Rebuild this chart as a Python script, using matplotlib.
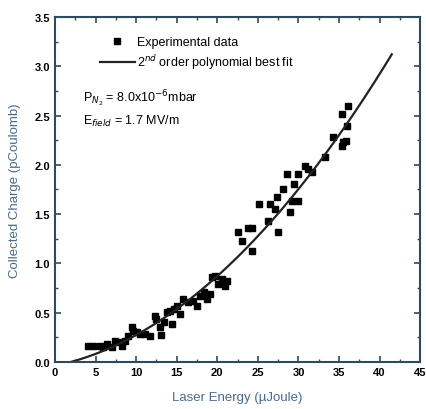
import numpy as np
import matplotlib
matplotlib.use("Agg")
import matplotlib.pyplot as plt
from matplotlib.ticker import MultipleLocator

plt.rcParams['font.family'] = ['Liberation Sans', 'DejaVu Sans']

# laser energy (uJ) and collected charge (pC)
energy = [4.1, 4.7, 5.5, 5.9, 6.4, 7.0, 7.4, 7.8, 8.3, 8.6, 9.0, 9.5, 9.6, 10.1,
          10.5, 11.1, 11.7, 12.3, 12.5, 12.9, 13.1, 13.4, 13.8, 14.2, 14.4, 14.6,
          15.0, 15.4, 15.8, 16.4, 17.0, 17.5, 17.9, 18.3, 18.7, 19.1, 19.4, 19.7,
          20.1, 20.6, 21.0, 21.2, 22.6, 23.0, 23.8, 24.3, 24.3, 25.1, 26.3, 26.5,
          27.1, 27.4, 27.5, 28.1, 28.6, 29.0, 29.2, 29.4, 30.0, 30.0, 30.8, 31.2,
          31.7, 33.3, 34.2, 35.4, 35.5, 35.8, 36.0, 35.4, 36.1]
charge = [0.16, 0.16, 0.16, 0.15, 0.18, 0.15, 0.21, 0.20, 0.16, 0.21, 0.26, 0.35,
          0.31, 0.30, 0.28, 0.28, 0.26, 0.47, 0.44, 0.35, 0.27, 0.40, 0.51, 0.52,
          0.38, 0.54, 0.57, 0.49, 0.64, 0.61, 0.62, 0.57, 0.67, 0.71, 0.64, 0.69,
          0.86, 0.87, 0.79, 0.84, 0.77, 0.82, 1.32, 1.23, 1.36, 1.36, 1.13, 1.60,
          1.43, 1.60, 1.55, 1.67, 1.32, 1.75, 1.91, 1.52, 1.63, 1.81, 1.63, 1.91,
          1.99, 1.96, 1.93, 2.08, 2.28, 2.19, 2.23, 2.24, 2.39, 2.52, 2.60]

# quadratic fit coefficients (c2, c1, c0) and range of the fitted curve
fit_coef = [0.001426, 0.0170, -0.0397]
fit_range = (0.0, 41.5)

fit_x = np.linspace(fit_range[0], fit_range[1], 300)
fit_y = np.polyval(fit_coef, fit_x)

fig = plt.figure(figsize=(4.27, 4.10), dpi=100)
ax = fig.add_axes([0.129, 0.115, 0.855, 0.841])

ax.plot(energy, charge, 's', color='black', markersize=4.5, label='Experimental data')
ax.plot(fit_x, fit_y, '-', color='#222222', lw=1.6,
        label=r'2$^{nd}$ order polynomial best fit')

ax.set_xlim(0, 45)
ax.set_ylim(0, 3.5)
ax.xaxis.set_major_locator(MultipleLocator(5))
ax.xaxis.set_minor_locator(MultipleLocator(2.5))
ax.yaxis.set_major_locator(MultipleLocator(0.5))
ax.yaxis.set_minor_locator(MultipleLocator(0.25))
ax.yaxis.set_major_formatter(plt.FormatStrFormatter('%.1f'))
ax.tick_params(which='both', direction='in', top=True, right=True, color='#2f4a5a')
ax.tick_params(which='major', length=4, width=1.2, labelsize=8)
ax.tick_params(which='minor', length=2.5, width=1.0)
for lab in ax.get_xticklabels() + ax.get_yticklabels():
    lab.set_fontweight('bold')
for s in ax.spines.values():
    s.set_color('#2f4a5a')
    s.set_linewidth(1.5)

ax.set_xlabel('Laser Energy (\u00b5Joule)', color='#4a6a8a', fontsize=9.5, labelpad=10)
ax.set_ylabel('Collected Charge (pCoulomb)', color='#4a6a8a', fontsize=9.5, labelpad=10)

ax.legend(loc='upper left', bbox_to_anchor=(0.123, 0.945), frameon=False,
          fontsize=9, handlelength=2.8, handletextpad=0.2, borderaxespad=0,
          borderpad=0, labelspacing=0.35)

ax.text(0.077, 0.765, r'P$_{N_2}$ = 8.0x10$^{-6}$mbar', transform=ax.transAxes,
        fontsize=9, va='center')
ax.text(0.077, 0.70, r'E$_{field}$ = 1.7 MV/m', transform=ax.transAxes,
        fontsize=9, va='center')

fig.savefig('out.png', dpi=100)
